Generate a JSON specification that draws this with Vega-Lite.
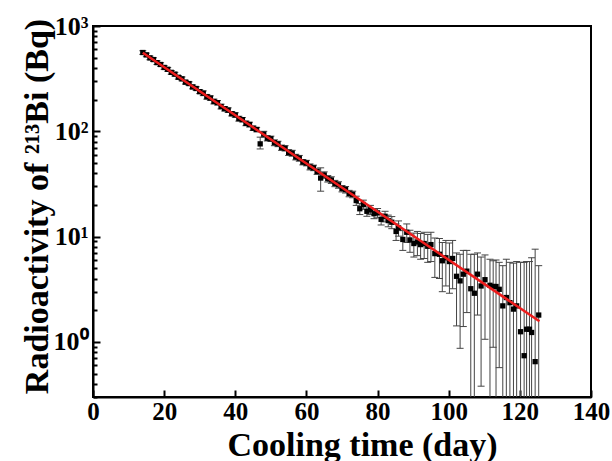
{
  "$schema": "https://vega.github.io/schema/vega-lite/v6.json",
  "width": 498,
  "height": 371,
  "autosize": {"type": "none"},
  "padding": {"left": 93, "top": 26, "right": 21, "bottom": 64},
  "background": "white",
  "config": {
    "view": {"stroke": "black", "strokeWidth": 2},
    "font": "Liberation Serif"
  },
  "datasets": {
    "pts": [
      {"x": 14, "y": 560, "lo": 538, "hi": 582},
      {"x": 15, "y": 532, "lo": 511, "hi": 553},
      {"x": 16, "y": 498, "lo": 478, "hi": 518},
      {"x": 17, "y": 480, "lo": 461, "hi": 499},
      {"x": 18, "y": 449, "lo": 431, "hi": 467},
      {"x": 19, "y": 431, "lo": 414, "hi": 448},
      {"x": 20, "y": 404, "lo": 388, "hi": 420},
      {"x": 21, "y": 388, "lo": 372, "hi": 404},
      {"x": 22, "y": 363, "lo": 348, "hi": 378},
      {"x": 23, "y": 349, "lo": 335, "hi": 363},
      {"x": 24, "y": 326, "lo": 313, "hi": 339},
      {"x": 25, "y": 315, "lo": 302, "hi": 328},
      {"x": 26, "y": 293, "lo": 281, "hi": 305},
      {"x": 27, "y": 284, "lo": 273, "hi": 295},
      {"x": 28, "y": 264, "lo": 253, "hi": 275},
      {"x": 29, "y": 255, "lo": 245, "hi": 265},
      {"x": 30, "y": 238, "lo": 228, "hi": 248},
      {"x": 31, "y": 230, "lo": 218, "hi": 242},
      {"x": 32, "y": 213, "lo": 202, "hi": 224},
      {"x": 33, "y": 207, "lo": 197, "hi": 217},
      {"x": 34, "y": 192, "lo": 182, "hi": 202},
      {"x": 35, "y": 187, "lo": 178, "hi": 196},
      {"x": 36, "y": 172, "lo": 163, "hi": 181},
      {"x": 37, "y": 164, "lo": 156, "hi": 172},
      {"x": 38, "y": 159, "lo": 151, "hi": 167},
      {"x": 39, "y": 147, "lo": 140, "hi": 154},
      {"x": 40, "y": 143, "lo": 136, "hi": 150},
      {"x": 41, "y": 132, "lo": 125, "hi": 139},
      {"x": 42, "y": 129, "lo": 123, "hi": 135},
      {"x": 43, "y": 119, "lo": 113, "hi": 125},
      {"x": 44, "y": 116, "lo": 110, "hi": 122},
      {"x": 45, "y": 107, "lo": 102, "hi": 112},
      {"x": 46, "y": 104, "lo": 99, "hi": 109},
      {"x": 47, "y": 76, "lo": 68, "hi": 88},
      {"x": 48, "y": 94, "lo": 88, "hi": 100},
      {"x": 49, "y": 86, "lo": 81, "hi": 91},
      {"x": 50, "y": 85, "lo": 80, "hi": 90},
      {"x": 51, "y": 78, "lo": 73, "hi": 83},
      {"x": 52, "y": 76, "lo": 71.5, "hi": 80.5},
      {"x": 53, "y": 70, "lo": 66, "hi": 74},
      {"x": 54, "y": 69, "lo": 65, "hi": 73},
      {"x": 55, "y": 63, "lo": 59, "hi": 67},
      {"x": 56, "y": 62, "lo": 58, "hi": 66},
      {"x": 57, "y": 57, "lo": 53.5, "hi": 60.5},
      {"x": 58, "y": 55.5, "lo": 52, "hi": 59},
      {"x": 59, "y": 51, "lo": 48, "hi": 54},
      {"x": 60, "y": 50, "lo": 47, "hi": 53},
      {"x": 61, "y": 46, "lo": 43, "hi": 49},
      {"x": 62, "y": 45, "lo": 42.3, "hi": 47.7},
      {"x": 63, "y": 41.5, "lo": 39, "hi": 44},
      {"x": 64, "y": 36, "lo": 27, "hi": 45},
      {"x": 65, "y": 38.5, "lo": 35.8, "hi": 41.2},
      {"x": 66, "y": 35.5, "lo": 33, "hi": 38},
      {"x": 67, "y": 34.5, "lo": 32, "hi": 37},
      {"x": 68, "y": 32, "lo": 29.8, "hi": 34.2},
      {"x": 69, "y": 31, "lo": 28.8, "hi": 33.2},
      {"x": 70, "y": 28.6, "lo": 26.6, "hi": 30.6},
      {"x": 71, "y": 28, "lo": 26, "hi": 30},
      {"x": 72, "y": 25.7, "lo": 23.9, "hi": 27.5},
      {"x": 73, "y": 25.2, "lo": 23.4, "hi": 27},
      {"x": 74, "y": 22, "lo": 19.8, "hi": 24.2},
      {"x": 75, "y": 18.4, "lo": 16.2, "hi": 20.6},
      {"x": 76, "y": 20.2, "lo": 18.2, "hi": 22.2},
      {"x": 77, "y": 17.4, "lo": 15.6, "hi": 19.2},
      {"x": 78, "y": 18, "lo": 16.2, "hi": 19.8},
      {"x": 79, "y": 16.5, "lo": 14.8, "hi": 18.2},
      {"x": 80, "y": 16.8, "lo": 15.1, "hi": 18.5},
      {"x": 81, "y": 14.6, "lo": 12.9, "hi": 16.3},
      {"x": 82.1, "y": 15.6, "lo": 13.8, "hi": 17.4},
      {"x": 83, "y": 14.2, "lo": 12.4, "hi": 16},
      {"x": 84, "y": 13.7, "lo": 11.9, "hi": 15.5},
      {"x": 85.2, "y": 11.2, "lo": 9.2, "hi": 13.2},
      {"x": 85.9, "y": 12.1, "lo": 10.1, "hi": 14.1},
      {"x": 87.1, "y": 9.4, "lo": 7.4, "hi": 11.4},
      {"x": 88.2, "y": 11, "lo": 8.8, "hi": 13.2},
      {"x": 89.1, "y": 9.3, "lo": 7.1, "hi": 11.5},
      {"x": 90.2, "y": 8.6, "lo": 6.4, "hi": 10.8},
      {"x": 91.2, "y": 8.9, "lo": 6.6, "hi": 11.2},
      {"x": 92.1, "y": 8.4, "lo": 6.1, "hi": 10.7},
      {"x": 93.1, "y": 8.6, "lo": 6.2, "hi": 11},
      {"x": 94.1, "y": 8.1, "lo": 5.7, "hi": 10.5},
      {"x": 95, "y": 8.4, "lo": 5.8, "hi": 11},
      {"x": 96.1, "y": 6.9, "lo": 4.1, "hi": 9.7},
      {"x": 97.4, "y": 6.8, "lo": 4, "hi": 9.6},
      {"x": 98.2, "y": 5.9, "lo": 3, "hi": 8.8},
      {"x": 99.2, "y": 6.3, "lo": 3.4, "hi": 9.2},
      {"x": 100.2, "y": 5.8, "lo": 2.9, "hi": 8.7},
      {"x": 101.1, "y": 6.2, "lo": 3.2, "hi": 9.2},
      {"x": 102.2, "y": 4.2, "lo": 1.42, "hi": 7},
      {"x": 103.2, "y": 3.8, "lo": 0.87, "hi": 6.8},
      {"x": 104.1, "y": 4.4, "lo": 1.4, "hi": 7.4},
      {"x": 105.1, "y": 4.7, "lo": 1.9, "hi": 7.4},
      {"x": 106.2, "y": 3.2, "lo": 0.05, "hi": 6.8},
      {"x": 107.2, "y": 2.9, "lo": 0.05, "hi": 6.8},
      {"x": 108.1, "y": 4.4, "lo": 1.8, "hi": 7},
      {"x": 109.1, "y": 3.4, "lo": 0.38, "hi": 6.4},
      {"x": 110.2, "y": 3.9, "lo": 1.06, "hi": 6.7},
      {"x": 111.6, "y": 3.45, "lo": 0.05, "hi": 6.1},
      {"x": 112.5, "y": 3.36, "lo": 0.89, "hi": 5.9},
      {"x": 113.3, "y": 3.36, "lo": 0.05, "hi": 6},
      {"x": 114.2, "y": 3.16, "lo": 0.57, "hi": 5.7},
      {"x": 115.2, "y": 2.2, "lo": 0.05, "hi": 5.3},
      {"x": 116.2, "y": 2.64, "lo": 0.05, "hi": 6.1},
      {"x": 117.2, "y": 2.36, "lo": 0.05, "hi": 5.7},
      {"x": 118.2, "y": 2.05, "lo": 0.05, "hi": 5.6},
      {"x": 119.1, "y": 2.2, "lo": 0.05, "hi": 5.8},
      {"x": 120.2, "y": 1.25, "lo": 0.05, "hi": 5.7},
      {"x": 121.2, "y": 0.74, "lo": 0.05, "hi": 5.7},
      {"x": 121.9, "y": 1.32, "lo": 0.05, "hi": 5.8},
      {"x": 122.7, "y": 1.32, "lo": 0.05, "hi": 5.8},
      {"x": 123.3, "y": 1.23, "lo": 0.05, "hi": 6.3},
      {"x": 124.3, "y": 0.65, "lo": 0.05, "hi": 7.6},
      {"x": 125.3, "y": 1.8, "lo": 0.05, "hi": 5.3}
    ],
    "fit": [
      {"x": 14, "y": 558},
      {"x": 125.5, "y": 1.57}
    ]
  },
  "layer": [
    {
      "data": {"name": "pts"},
      "mark": {"type": "rule", "clip": true, "color": "#444", "strokeWidth": 1},
      "encoding": {
        "x": {
          "field": "x", "type": "quantitative",
          "title": "Cooling time (day)",
          "scale": {"domain": [0, 140], "nice": false, "zero": false},
          "axis": {
            "values": [0, 10, 20, 30, 40, 50, 60, 70, 80, 90, 100, 110, 120, 130, 140],
            "labelExpr": "datum.value % 20 === 0 ? datum.label : ''",
            "grid": false,
            "domainColor": "black", "domainWidth": 2,
            "tickColor": "black", "tickWidth": 2,
            "tickSize": {"condition": {"test": "datum.value % 20 === 0", "value": -7}, "value": -4},
            "labelFont": "Liberation Serif", "labelFontWeight": "bold", "labelFontSize": 25,
            "labelColor": "black", "labelPadding": 9, "labelFlush": false, "labelOverlap": false,
            "titleFont": "Liberation Serif", "titleFontWeight": "bold", "titleFontSize": 34,
            "titleColor": "black", "titleX": 269, "titleY": 58,
            "titleAlign": "center", "titleBaseline": "alphabetic"
          }
        },
        "y": {
          "field": "lo", "type": "quantitative",
          "title": "Radioactivity of ²¹³Bi (Bq)",
          "scale": {"type": "log", "domain": [0.3, 1000], "nice": false},
          "axis": {
            "values": [0.3, 0.4, 0.5, 0.6, 0.7, 0.8, 0.9, 1, 2, 3, 4, 5, 6, 7, 8, 9, 10, 20, 30, 40, 50, 60, 70, 80, 90, 100, 200, 300, 400, 500, 600, 700, 800, 900, 1000],
            "labelExpr": "datum.value == 1 ? '10⁰' : datum.value == 10 ? '10¹' : datum.value == 100 ? '10²' : datum.value == 1000 ? '10³' : ''",
            "grid": false,
            "domainColor": "black", "domainWidth": 2,
            "tickColor": "black", "tickWidth": 2,
            "tickSize": {"condition": {"test": "indexof([1,10,100,1000], datum.value) >= 0", "value": -7}, "value": -4},
            "labelFont": "Liberation Serif", "labelFontWeight": "bold", "labelFontSize": 26,
            "labelColor": "black", "labelPadding": 12, "labelFlush": false, "labelOverlap": false,
            "labelBaseline": "middle",
            "titleFont": "Liberation Serif", "titleFontWeight": "bold", "titleFontSize": 34,
            "titleColor": "black", "titleX": -46, "titleY": 180, "titleAngle": -90,
            "titleAlign": "center", "titleBaseline": "alphabetic"
          }
        },
        "y2": {"field": "hi"}
      }
    },
    {
      "data": {"name": "pts"},
      "mark": {"type": "tick", "orient": "horizontal", "size": 7, "thickness": 1, "color": "#444", "clip": true, "opacity": 1},
      "encoding": {
        "x": {"field": "x", "type": "quantitative", "title": "Cooling time (day)"},
        "y": {"field": "hi", "type": "quantitative", "title": "Radioactivity of ²¹³Bi (Bq)"}
      }
    },
    {
      "data": {"name": "pts"},
      "mark": {"type": "tick", "orient": "horizontal", "size": 7, "thickness": 1, "color": "#444", "clip": true, "opacity": 1},
      "encoding": {
        "x": {"field": "x", "type": "quantitative", "title": "Cooling time (day)"},
        "y": {"field": "lo", "type": "quantitative", "title": "Radioactivity of ²¹³Bi (Bq)"}
      }
    },
    {
      "data": {"name": "pts"},
      "mark": {"type": "point", "shape": "square", "filled": true, "size": 28, "color": "black", "opacity": 1, "clip": true},
      "encoding": {
        "x": {"field": "x", "type": "quantitative", "title": "Cooling time (day)"},
        "y": {"field": "y", "type": "quantitative", "title": "Radioactivity of ²¹³Bi (Bq)"}
      }
    },
    {
      "data": {"name": "fit"},
      "mark": {"type": "line", "color": "#ee1c1c", "strokeWidth": 2.5},
      "encoding": {
        "x": {"field": "x", "type": "quantitative", "title": "Cooling time (day)"},
        "y": {"field": "y", "type": "quantitative", "title": "Radioactivity of ²¹³Bi (Bq)"}
      }
    }
  ]
}
